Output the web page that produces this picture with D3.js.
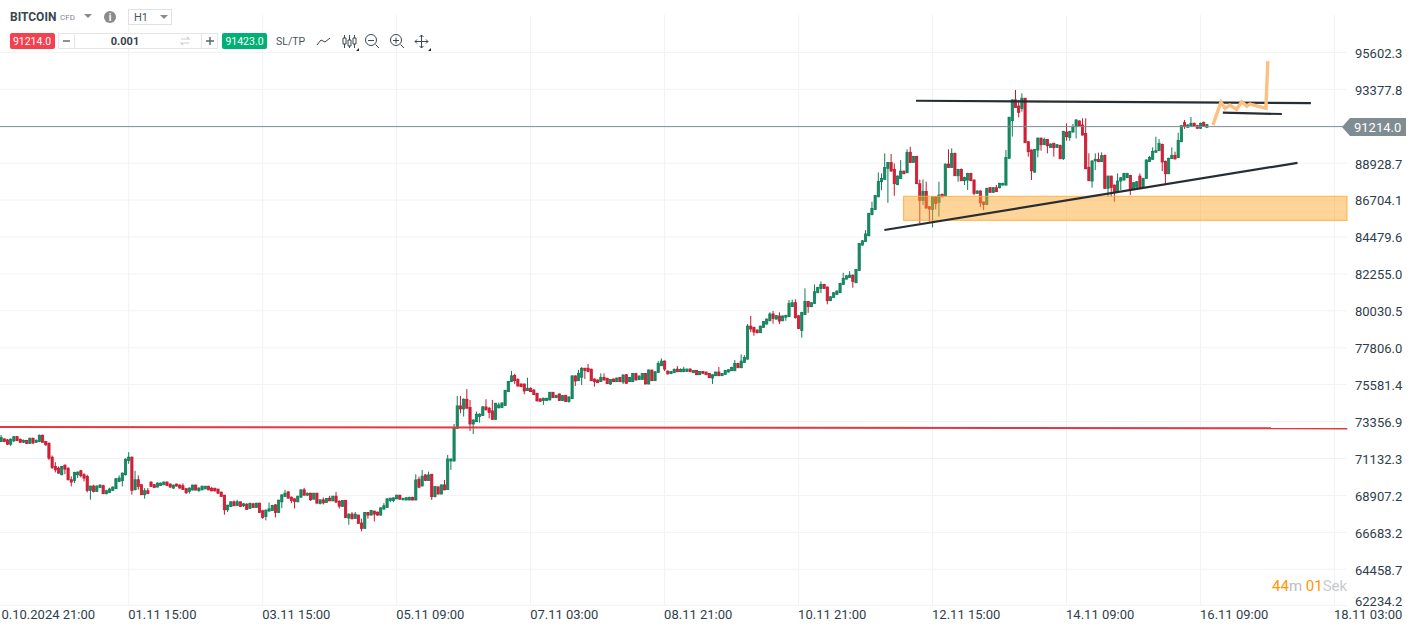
<!DOCTYPE html>
<html>
<head>
<meta charset="utf-8">
<script src="https://d3js.org/d3.v7.min.js"></script>
<style>
body { margin: 0; background: #fff; overflow: hidden; }
svg { display: block; font-family: Roboto, sans-serif; }
</style>
</head>
<body>
<svg width="1412" height="627"></svg>
<script>
// hourly candles
var opens = [
72150,72310,72250,71990,72190,72450,72290,72110,72210,72030,
72350,72110,72150,72530,72150,72050,71210,70650,70550,70150,
70730,70550,69850,69810,70150,70390,70150,70050,69210,69470,
69150,69390,69490,69010,69090,69210,69310,69750,69790,70150,
71010,71210,69250,69850,69550,68950,69190,69710,69550,69410,
69510,69550,69710,69590,69350,69590,69530,69490,69310,69150,
69230,69530,69190,69240,69300,69460,69340,69340,69280,69100,
68920,68040,68240,68520,68300,68520,68280,68380,68120,68400,
68180,68440,67980,67640,67960,68000,68340,67880,68520,68840,
69120,68800,68700,68520,68800,69240,68920,69040,68680,69040,
68420,68640,68480,68740,68580,68860,68560,68240,68600,67540,
67780,67520,67720,67240,66920,67880,67720,67960,67900,67720,
68080,68180,68600,68600,68700,68920,68640,68630,68630,68790,
68630,69880,69480,70140,69800,70180,68830,69420,68990,69540,
69260,70980,70980,72950,74300,74120,74700,74200,73210,73350,
73660,73720,74240,74160,74000,73490,74180,74200,74320,75160,
75760,76130,75900,75620,75620,75220,75360,75260,75060,74720,
74620,74620,74660,75120,74800,75020,74620,74940,74560,74740,
76110,75820,76030,76570,76570,76510,75920,75860,75760,76020,
75960,75620,75920,75760,76020,75740,76180,75760,75760,76260,
75880,75900,76260,75620,76460,75820,76320,76720,77000,76400,
76240,76300,76520,76360,76360,76380,76520,76300,76440,76180,
76380,76340,76260,75980,76120,76340,76120,76200,76340,76420,
76420,76860,76600,76920,77120,79110,79030,78870,78710,79030,
79230,79430,79840,79530,79720,79430,79640,79680,80280,80520,
79730,78850,79810,80600,80280,80480,81120,81380,81620,81460,
80640,80840,81020,81120,81620,81940,82040,82180,81720,82460,
83990,84210,84550,85820,86140,86900,87810,87950,88610,88970,
88550,87630,88010,88450,88350,89580,88970,89340,87690,86680,
87230,86300,86140,86900,86560,87050,86950,88870,88670,89520,
88170,88550,87870,87910,88310,87910,87110,87250,86580,86440,
87450,87170,87450,87450,87610,87610,89220,91490,92740,92370,
92230,92840,90220,89720,88390,89720,90440,90040,90360,89880,
90120,89880,90000,89200,90800,90480,90800,91130,91470,91230,
90720,88680,87850,89060,89160,89020,89400,87410,88150,87610,
87210,87850,87910,88050,88190,87350,87470,88150,87470,88010,
89020,89160,89580,89680,90060,89040,88290,89200,89400,89260,
90220,91370,91090,91170,91330,91190,91030,91390,91090
];
var closes = [
72390,72150,71990,72290,72450,72210,72110,72230,72030,72350,
72070,72230,72530,72110,71950,71150,70590,70450,70250,70650,
70490,69850,69710,70290,70310,70090,69950,69210,69470,69150,
69470,69530,69010,69190,69290,69410,69910,69950,70250,71090,
71210,69210,69850,69450,68950,69190,69010,69450,69390,69650,
69650,69710,69510,69410,69530,69470,69350,69270,69070,69350,
69530,69230,69350,69460,69460,69240,69180,69180,69040,68840,
68040,68320,68520,68280,68520,68240,68400,68060,68420,68180,
68440,67880,67580,68020,68100,68300,67880,68620,68940,69040,
68740,68600,68540,68860,69240,68920,69040,68640,69040,68440,
68640,68460,68720,68580,68860,68500,68260,68600,67580,67780,
67500,67780,67220,66920,67880,67720,68000,67780,67720,68160,
68280,68700,68740,68760,68920,68680,68730,68770,68790,68630,
69840,69400,70060,69800,70140,68830,69440,68990,69540,69240,
71100,71100,72990,74300,74120,74700,74160,73210,73450,73800,
73800,74240,74060,73900,73490,74460,74360,74480,75240,75780,
76110,75820,75500,75460,75200,75360,75160,74980,74600,74580,
74760,74760,75120,74800,74940,74620,74920,74560,74840,76110,
75800,76270,76570,76430,76370,75820,75760,75700,76020,75860,
75640,75900,75760,75980,75760,76160,75660,76020,76260,75860,
76100,76260,75620,76460,75820,76360,76860,77000,76520,76240,
76380,76500,76360,76500,76520,76520,76360,76440,76180,76380,
76260,76180,76000,76180,76340,76120,76260,76440,76480,76620,
76860,76600,77000,77220,79110,78930,78750,78710,79110,79390,
79530,79840,79570,79740,79410,79720,79760,80480,80520,79620,
78970,79930,80600,80280,80520,81180,81440,81620,81380,80640,
80880,81120,81220,81680,81980,82140,82180,81800,82520,84090,
84250,84660,85900,86200,86980,87830,88010,88670,88970,88450,
87690,88150,88450,88290,89580,88970,89340,87690,86680,87230,
86220,86160,86900,86500,87010,86900,88870,88670,89520,88170,
88550,87870,88070,88310,87870,87110,87250,86540,86440,87410,
87170,87450,87210,87710,87710,89270,91690,92740,92290,91990,
92840,90160,89620,88470,89760,90440,90040,90360,89980,90080,
89860,90040,89200,90840,90520,90840,91130,91530,91190,90620,
88590,87870,89060,89160,89020,89380,87410,88150,87470,87190,
87850,88050,88310,88310,87310,87750,87810,87470,88010,89120,
89280,89640,89680,90120,89000,88290,89220,89400,89180,90300,
91190,91130,91230,91330,91190,91030,91330,91170,91250
];
var highs = [
72550,72350,72310,72350,72490,72490,72330,72270,72250,72390,
72390,72270,72570,72570,72190,72090,71310,70910,70650,70690,
70770,70590,70050,70330,70350,70450,70250,70150,69490,69550,
69510,69570,69550,69250,69370,69450,69950,70110,70290,71130,
71510,71250,70390,70110,69590,69350,69350,69750,69590,69690,
69670,69750,69750,69630,69550,69610,69570,69630,69350,69390,
69550,69550,69390,69500,69480,69480,69420,69360,69320,69140,
68940,68340,68560,68600,68640,68540,68440,68440,68480,68460,
68460,68460,68040,68060,68480,68340,68380,68640,68960,69240,
69160,68840,68720,68880,69260,69360,69080,69060,69060,69060,
68660,68780,68740,68880,68880,69120,68600,68620,68620,67820,
67900,67900,67740,67500,67900,67900,68040,67980,67920,68180,
68440,68720,68760,68780,68940,68940,68760,68790,68830,68830,
70180,70040,70440,70180,70340,70200,69480,69440,69560,69840,
71340,71120,73210,74900,74900,74760,75320,74660,73490,73960,
73860,74300,74700,74240,74660,74480,74500,74500,75260,75800,
76410,76230,75960,75660,75640,76000,75420,75300,75080,74760,
74800,74780,75140,75140,74960,75040,74940,74960,74860,76130,
76130,76470,76630,76590,76830,76550,75960,75900,76260,76260,
76000,75920,75940,76000,76040,76200,76220,76040,76280,76280,
76140,76280,76280,76500,76480,76380,77000,77160,77040,76420,
76400,76560,76700,76560,76660,76540,76560,76460,76460,76400,
76400,76360,76280,76200,76360,76640,76280,76460,76500,76660,
77060,76900,77400,77360,79230,79720,79070,78910,79130,79410,
79570,79940,80020,79760,79940,79740,79780,80680,80700,80720,
79760,79970,81380,80620,80540,81620,81480,81800,81660,81500,
80900,81140,81260,81720,82320,82180,82420,82220,82560,84110,
84290,84900,85940,86600,87020,88370,88310,89520,89000,89480,
88910,88190,89110,88470,89760,89920,89360,89360,87930,87950,
87810,86340,86950,86950,87810,87100,88910,89760,89820,89560,
88590,88610,88110,88350,88350,87950,87290,87290,86620,87450,
87490,87490,87610,87750,87750,89720,91730,92770,93340,92740,
93140,92860,90260,89760,89780,90460,90460,90460,90380,90120,
90160,90080,90040,90880,91330,90880,91290,91590,91510,91630,
91630,89520,89100,89520,89560,89580,89440,88170,88170,87630,
88310,88090,88350,88350,88230,87790,87850,88310,88050,89160,
89360,89880,90520,90380,90100,89080,89260,89880,89620,90760,
91230,91530,91270,91710,91370,91230,91370,91430,91290
];
var lows = [
72150,72110,71950,71890,72110,72190,72070,72070,72010,72010,
71990,72070,72110,72090,71910,71050,70490,70290,70210,70130,
70190,69810,69450,69650,69950,69990,69750,69090,68650,69090,
69130,69350,68990,68970,69050,69190,69290,69710,69450,70110,
70810,68950,69210,69250,68930,68710,68990,69430,69350,69390,
69490,69530,69490,69370,69290,69450,69310,69230,68990,69010,
69210,69210,69130,69220,69280,69220,69160,69140,69000,68820,
67740,67900,68220,68260,68280,68220,68200,68040,68100,68160,
68160,67860,67500,67400,67940,67980,67580,67860,68140,68800,
68720,68440,68120,68500,68780,68900,68880,68580,68660,68420,
68360,68360,68460,68560,68560,68480,68120,68220,67560,67140,
67460,67500,67200,66740,66900,67500,67700,67340,67700,67700,
68060,68160,68500,68500,68680,68660,68620,68610,68610,68610,
68610,69340,69440,69780,69780,68630,68790,68970,68970,69220,
69240,70440,70960,72930,73860,73660,74140,72790,72610,73330,
73290,73700,74040,73550,73470,73470,74160,74180,74300,75140,
75740,75620,75460,75440,75000,75200,75140,74960,74580,74560,
74360,74600,74640,74780,74780,74600,74600,74540,74500,74720,
75500,75800,75560,75920,76330,75800,75460,75680,75740,75840,
75620,75560,75740,75740,75740,75620,75620,75740,75740,75840,
75860,75880,75600,75600,75800,75800,76300,76700,76400,76180,
76220,76280,76340,76340,76340,76360,76340,76280,76160,76160,
76240,76160,75980,75620,76100,76100,76100,76180,76320,76400,
76400,76580,76580,76900,77100,78750,78530,78670,78690,79010,
79210,79410,79250,79510,79230,79410,79430,79660,80260,79560,
78930,78410,79790,79910,80250,80460,81100,81100,81360,80420,
80620,80820,81000,81100,81600,81920,82020,81420,81700,82440,
83970,84190,84530,85800,86120,86880,87300,87930,86540,88430,
86960,87610,87990,88270,88330,88950,88950,87670,85300,86400,
86200,85400,85060,86140,85700,86870,86900,88650,88650,88150,
87810,87850,87610,87310,87850,87000,87090,86300,86100,86400,
87150,87150,87190,87410,87570,87570,89200,90530,92270,91690,
92030,90140,89320,87910,88350,89280,89680,90020,89520,89860,
89320,89860,89180,89120,90280,90280,90780,90420,91170,90600,
88570,87850,87450,88510,89000,89000,87390,86910,86910,86600,
87190,87310,87890,88030,87010,87330,87450,87450,87450,87990,
89000,89140,89560,89660,88450,87710,88270,89180,89160,89240,
90200,90990,91070,91150,91170,90990,90990,91150,91070
];

var priceTicks = [95602.3, 93377.8, 91153.3, 88928.7, 86704.1, 84479.6, 82255.0, 80030.5, 77806.0, 75581.4, 73356.9, 71132.3, 68907.8, 66683.2, 64458.7, 62234.2];
var priceLabels = ['95602.3', '93377.8', '', '88928.7', '86704.1', '84479.6', '82255.0', '80030.5', '77806.0', '75581.4', '73356.9', '71132.3', '68907.2', '66683.2', '64458.7', '62234.2'];
var timeTicks = [-2, 40, 82, 124, 166, 208, 250, 292, 334, 376, 418];
var timeLabels = ['0.10.2024 21:00', '01.11 15:00', '03.11 15:00', '05.11 09:00', '07.11 03:00', '08.11 21:00', '10.11 21:00', '12.11 15:00', '14.11 09:00', '16.11 09:00', '18.11 03:00'];

// drawings on the chart, as [bar, price]
var redLevel = [[-1, 73030], [422, 72950]];
var topLine = [[286.8, 92690], [410.6, 92550]];
var shortLine = [[383, 91970], [401.5, 91890]];
var riseLine = [[276.9, 84900], [406.4, 88950]];
var zoneBars = [282.9, 422];
var zonePrices = [86930, 85480];
var orangePath = [[379.9, 91230], [382.4, 92610], [383.7, 92230], [385.2, 92430], [387.3, 92170], [388.9, 92630], [390.5, 92370], [391.5, 92490], [396.5, 92230], [397.1, 95080]];
var lastPrice = '91214.0', askPrice = '91423.0', lastLevel = 91130;

var svg = d3.select('svg');

var x = d3.scaleLinear().domain([0, 378]).range([1.1, 1206.9]);
var y = d3.scaleLinear().domain([66683.2, 95602.3]).range([532.3, 52.4]);

var plotRight = 1347, plotBottom = 605.3;
var line = d3.line().x(function (d) { return x(d[0]); }).y(function (d) { return y(d[1]); });

/*
	grid
*/
svg.append('g').selectAll('line').data(priceTicks).enter().append('line')
	.attr('x1', 0).attr('x2', plotRight)
	.attr('y1', function (d) { return Math.min(y(d), plotBottom); })
	.attr('y2', function (d) { return Math.min(y(d), plotBottom); })
	.style('stroke', '#f1f2f3').style('stroke-width', 1);

svg.append('g').selectAll('line').data(timeTicks).enter().append('line')
	.attr('x1', x).attr('x2', x)
	.attr('y1', 15).attr('y2', plotBottom)
	.style('stroke', '#f1f2f3').style('stroke-width', 1);

/*
	candles
*/
var candles = svg.append('g').selectAll('g').data(closes).enter().append('g');

candles.append('line')
	.attr('x1', function (d, i) { return x(i); })
	.attr('x2', function (d, i) { return x(i); })
	.attr('y1', function (d, i) { return y(highs[i]); })
	.attr('y2', function (d, i) { return y(lows[i]); })
	.style('stroke', function (d, i) { return d >= opens[i] ? '#0f7d57' : '#c4182f'; })
	.style('stroke-width', 1);

candles.append('rect')
	.attr('x', function (d, i) { return x(i) - 1.1; })
	.attr('width', 2.2)
	.attr('y', function (d, i) { return y(Math.max(d, opens[i])); })
	.attr('height', function (d, i) { return Math.max(1, Math.abs(y(d) - y(opens[i]))); })
	.style('fill', function (d, i) { return d >= opens[i] ? '#178c62' : '#da2038'; })
	.style('stroke', function (d, i) { return d >= opens[i] ? '#0f7d57' : '#c4182f'; })
	.style('stroke-width', 0.8);

/*
	drawings
*/
svg.append('rect')
	.attr('x', x(zoneBars[0]))
	.attr('width', Math.min(x(zoneBars[1]), plotRight) - x(zoneBars[0]))
	.attr('y', y(zonePrices[0]))
	.attr('height', y(zonePrices[1]) - y(zonePrices[0]))
	.style('fill', 'rgba(253,166,40,0.48)')
	.style('stroke', 'rgba(255,170,60,0.75)')
	.style('stroke-width', 1.2);

svg.append('line')
	.attr('x1', 0).attr('x2', 1345)
	.attr('y1', y(lastLevel)).attr('y2', y(lastLevel))
	.style('stroke', '#7f8d94').style('stroke-width', 1);

svg.append('path').attr('d', line(redLevel))
	.style('fill', 'none').style('stroke', '#e5393f').style('stroke-width', 2.2);

[topLine, shortLine, riseLine].forEach(function (l) {
	svg.append('path').attr('d', line(l))
		.style('fill', 'none').style('stroke', '#262d33').style('stroke-width', 2.2);
});

svg.append('path').attr('d', line(orangePath))
	.style('fill', 'none').style('stroke', '#fdc080').style('stroke-width', 3.4);

/*
	axes
*/
var yAxis = svg.append('g').attr('transform', 'translate(1355,0.7)')
	.call(d3.axisRight(y).tickValues(priceTicks).tickSize(0).tickPadding(0)
		.tickFormat(function (d, i) { return priceLabels[i]; }));
yAxis.select('.domain').remove();
yAxis.selectAll('text').style('font-family', 'Roboto').style('font-size', '13px').style('fill', '#2f3e4b');
// the last label is pushed up to stay above the time axis
yAxis.selectAll('.tick').filter(function (d) { return d === 62234.2; }).attr('transform', 'translate(0,601)');

var xAxis = svg.append('g').attr('transform', 'translate(-1,606)')
	.call(d3.axisBottom(x).tickValues(timeTicks).tickSize(0).tickPadding(0)
		.tickFormat(function (d, i) { return timeLabels[i]; }));
xAxis.select('.domain').remove();
xAxis.selectAll('text')
	.attr('text-anchor', 'start').attr('y', 13).attr('dy', 0)
	.style('font-family', 'Roboto').style('font-size', '13px').style('fill', '#2f3e4b');
// first label starts at the window edge
xAxis.selectAll('.tick').filter(function (d) { return d === -2; }).select('text').attr('x', 7.3);

// last price tag
svg.append('path').attr('d', 'M1342,127L1350,118H1406V136H1350Z').style('fill', '#7f8c92');
svg.append('text').attr('x', 1354).attr('y', 132).text(lastPrice)
	.style('font-size', '13px').style('fill', '#fff');

// countdown
var timer = svg.append('text').attr('x', 1272).attr('y', 591).style('font-size', '15px');
timer.append('tspan').text('44').style('fill', '#ff9800');
timer.append('tspan').text('m ').style('fill', '#b9bec2');
timer.append('tspan').text('01').style('fill', '#ff9800');
timer.append('tspan').text('Sek').style('fill', '#c8cccf');

/*
	toolbar
*/
var bar = svg.append('g');

bar.append('text').attr('x', 10).attr('y', 21).text('BITCOIN')
	.style('font-size', '12px').style('font-weight', 700).style('fill', '#37474f');
bar.append('text').attr('x', 60).attr('y', 20).text('CFD')
	.style('font-size', '8px').style('fill', '#80898f');
bar.append('path').attr('d', 'M84,14H92L88,18Z').style('fill', '#8a8a8a');
bar.append('circle').attr('cx', 110).attr('cy', 17).attr('r', 6).style('fill', '#8a8a8a');
bar.append('text').attr('x', 110).attr('y', 21).attr('text-anchor', 'middle').text('i')
	.style('font-size', '10px').style('font-weight', 700).style('fill', '#fff');
bar.append('rect').attr('x', 128.5).attr('y', 9.5).attr('width', 43).attr('height', 15)
	.style('fill', '#fff').style('stroke', '#dfe2e4');
bar.append('text').attr('x', 134).attr('y', 21).text('H1').style('font-size', '11px').style('fill', '#4a5560');
bar.append('path').attr('d', 'M160,15H168L164,19Z').style('fill', '#8a8a8a');

bar.append('rect').attr('x', 10).attr('y', 33).attr('width', 45).attr('height', 16).attr('rx', 2).style('fill', '#f5404f');
bar.append('text').attr('x', 32).attr('y', 45).attr('text-anchor', 'middle').text(lastPrice)
	.style('font-size', '10.5px').style('fill', '#fff');

bar.append('rect').attr('x', 58.5).attr('y', 33.5).attr('width', 159).attr('height', 15)
	.style('fill', '#fff').style('stroke', '#e3e5e7');
bar.append('path').attr('d', 'M74.5,33.5V48.5M201.5,33.5V48.5').style('stroke', '#e3e5e7');
bar.append('path').attr('d', 'M63,41H70').style('stroke', '#5a636b').style('stroke-width', 1.4);
bar.append('path').attr('d', 'M206,41H214M210,37V45').style('stroke', '#5a636b').style('stroke-width', 1.4);
bar.append('text').attr('x', 125).attr('y', 45).attr('text-anchor', 'middle').text('0.001')
	.style('font-size', '11px').style('font-weight', 700).style('fill', '#37424c');
bar.append('path').attr('d', 'M181,39H189L187,37M189,43H181L183,45').style('fill', 'none').style('stroke', '#c9cdd0').style('stroke-width', 1.2);

bar.append('rect').attr('x', 222).attr('y', 33).attr('width', 45).attr('height', 16).attr('rx', 2).style('fill', '#00b074');
bar.append('text').attr('x', 244.5).attr('y', 45).attr('text-anchor', 'middle').text(askPrice)
	.style('font-size', '10.5px').style('fill', '#fff');

bar.append('text').attr('x', 276).attr('y', 45).text('SL/TP').style('font-size', '10.5px').style('fill', '#4a5560');

function icon(d) {
	bar.append('path').attr('d', d).style('fill', 'none').style('stroke', '#3c4750').style('stroke-width', 1);
}
icon('M317,45L321,40L325,42L330,38');                                       // line chart
icon('M344.5,35V38M344.5,44V48M349.5,35V40M349.5,46V48M354.5,35V38M354.5,44V48M343,38h3v6h-3zM348,40h3v6h-3zM353,38h3v6h-3z'); // candles
icon('M375.5,44.5L379,48M368,40.5H374');                                    // zoom out
bar.append('circle').attr('cx', 371).attr('cy', 40).attr('r', 5.5).style('fill', 'none').style('stroke', '#3c4750');
icon('M400.5,44.5L404,48M393,40.5H399M396,37.5V43.5');                      // zoom in
bar.append('circle').attr('cx', 396).attr('cy', 40).attr('r', 5.5).style('fill', 'none').style('stroke', '#3c4750');
icon('M415,41.5H428M421.5,35V48M419.5,37L421.5,35L423.5,37M419.5,46L421.5,48L423.5,46M417,39.5L415,41.5L417,43.5M426,39.5L428,41.5L426,43.5'); // move
bar.append('path').attr('d', 'M359,48V51H356ZM431,48V51H428Z').style('fill', '#222');
</script>
</body>
</html>
